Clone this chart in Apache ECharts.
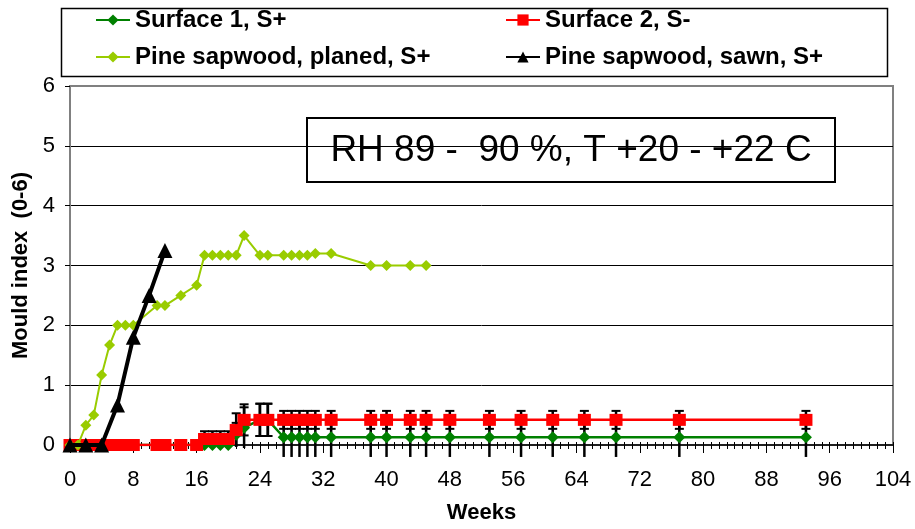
<!DOCTYPE html>
<html>
<head>
<meta charset="utf-8">
<script src="https://cdn.jsdelivr.net/npm/echarts@6/dist/echarts.min.js"></script>
<style>
html,body{margin:0;padding:0;background:#fff;}
#c{width:915px;height:529px;}
</style>
</head>
<body>
<div id="c"></div>
<script>
// ---- Data ----
const weeksSurf = [0,1,2,3,4,5,6,7,8,11,12,14,16,17,18,19,20,21,22,24,25,27,28,29,30,31,33,38,40,43,45,48,53,57,61,65,69,77,93];
const surface1 = [0,0,0,0,0,0,0,0,0,0,0,0,0,0,0,0,0,0.17,0.29,0.42,0.42,0.13,0.13,0.13,0.13,0.13,0.13,0.13,0.13,0.13,0.13,0.13,0.13,0.13,0.13,0.13,0.13,0.13,0.13];
const surface1Err = [0,0,0,0,0,0,0,0,0,0,0,0,0,0,0,0,0,0.2,0.34,0.27,0.27,0.33,0.33,0.33,0.33,0.33,0.33,0.33,0.33,0.33,0.33,0.33,0.33,0.33,0.33,0.33,0.33,0.33,0.33];
const surface2 = [0,0,0,0,0,0,0,0,0,0,0,0,0,0.1,0.1,0.1,0.1,0.25,0.42,0.42,0.42,0.42,0.42,0.42,0.42,0.42,0.42,0.42,0.42,0.42,0.42,0.42,0.42,0.42,0.42,0.42,0.42,0.42,0.42];
const surface2Err = [0,0,0,0,0,0,0,0,0,0,0,0,0,0.13,0.13,0.13,0.13,0.28,0.26,0.27,0.27,0.15,0.15,0.15,0.15,0.15,0.15,0.15,0.15,0.15,0.15,0.15,0.15,0.15,0.15,0.15,0.15,0.15,0.15];
const weeksPlaned = [0,1,2,3,4,5,6,7,8,11,12,14,16,17,18,19,20,21,22,24,25,27,28,29,30,31,33,38,40,43,45];
const pinePlaned = [0,0,0.33,0.5,1.17,1.67,2,2,2,2.33,2.33,2.5,2.67,3.17,3.17,3.17,3.17,3.17,3.5,3.17,3.17,3.17,3.17,3.17,3.17,3.2,3.2,3,3,3,3];
const weeksSawn = [0,2,4,6,8,10,12];
const pineSawn = [0,0,0,0.67,1.8,2.5,3.25];
const xTicks = {min:0, max:104, interval:8};
const yTicks = {min:0, max:6, interval:1};
const names = ['Surface 1, S+','Surface 2, S-','Pine sapwood, planed, S+','Pine sapwood, sawn, S+'];
const noteText = 'RH 89 -  90 %, T +20 - +22 C';

// ---- Build ----
const zip = (xs, ys) => xs.map((x,i)=>[x, ys[i]]);
const errData = (xs, ys, es) => xs.map((x,i)=>[x, ys[i]-es[i], ys[i]+es[i], es[i]]).filter(d=>d[3]>0);
const FONT = 'Liberation Sans, Arial, sans-serif';

function renderErr(params, api){
  const x = api.value(0), lo = api.value(1), hi = api.value(2);
  const pH = api.coord([x, hi]), pL = api.coord([x, lo]);
  const cw = 4.5;
  const st = {stroke:'#000', lineWidth:2.5};
  const ch = [
    {type:'line', shape:{x1:pH[0], y1:pH[1], x2:pL[0], y2:pL[1]}, style:st},
    {type:'line', shape:{x1:pH[0]-cw, y1:pH[1], x2:pH[0]+cw, y2:pH[1]}, style:{stroke:'#000', lineWidth:2}}
  ];
  if (lo >= 0) ch.push({type:'line', shape:{x1:pL[0]-cw, y1:pL[1], x2:pL[0]+cw, y2:pL[1]}, style:{stroke:'#000', lineWidth:2}});
  return {type:'group', children:ch};
}

const chart = echarts.init(document.getElementById('c'), null, {renderer:'canvas'});
chart.setOption({
  animation:false,
  backgroundColor:'#fff',
  textStyle:{fontFamily:FONT},
  grid:{left:70, right:22, top:86, bottom:73, show:true, borderColor:'#808080', borderWidth:2, backgroundColor:'#fff'},
  legend:[
    {data:[names[0], names[2]], orient:'vertical', left:95, top:8, padding:0, itemGap:13, itemWidth:34, itemHeight:14,
     textStyle:{fontSize:24, fontWeight:'bold', color:'#000', lineHeight:24, fontFamily:FONT}},
    {data:[names[1], names[3]], orient:'vertical', left:505, top:8, padding:0, itemGap:13, itemWidth:34, itemHeight:14,
     textStyle:{fontSize:24, fontWeight:'bold', color:'#000', lineHeight:24, fontFamily:FONT}}
  ],
  graphic:[
    {type:'rect', left:59, top:6, shape:{width:826, height:68}, style:{fill:'none', stroke:'#000', lineWidth:1.5}, z:-1},
    {type:'group', left:306, top:117, z:50, children:[
      {type:'rect', shape:{x:0, y:0, width:528, height:64}, style:{fill:'#fff', stroke:'#000', lineWidth:2}},
      {type:'text', x:264, y:33, style:{text:noteText, fontSize:37, fontFamily:FONT, fill:'#000', align:'center', verticalAlign:'middle'}}
    ]}
  ],
  xAxis:[
    {type:'value', min:xTicks.min, max:xTicks.max, interval:xTicks.interval,
     axisLine:{lineStyle:{color:'#000', width:1.5}},
     axisTick:{show:true, length:8, lineStyle:{color:'#000', width:1}},
     minorTick:{show:true, splitNumber:8, length:4, lineStyle:{color:'#000', width:1}},
     axisLabel:{fontSize:22, color:'#000', margin:24, fontFamily:FONT},
     splitLine:{show:false},
     name:'Weeks', nameLocation:'middle', nameGap:57,
     nameTextStyle:{fontSize:22, fontWeight:'bold', color:'#000', fontFamily:FONT}},
    {type:'value', min:xTicks.min, max:xTicks.max, interval:xTicks.interval, position:'bottom',
     axisLine:{show:false}, axisLabel:{show:false}, splitLine:{show:false},
     axisTick:{show:true, inside:true, length:3, lineStyle:{color:'#000', width:1}},
     minorTick:{show:true, splitNumber:8, length:3, lineStyle:{color:'#000', width:1}}}
  ],
  yAxis:{type:'value', min:yTicks.min, max:yTicks.max, interval:yTicks.interval,
     axisLine:{show:true, lineStyle:{color:'#808080', width:2}},
     axisTick:{show:true, length:5, lineStyle:{color:'#000', width:1}},
     axisLabel:{fontSize:22, color:'#000', margin:15, fontFamily:FONT},
     splitLine:{show:true, showMinLine:false, showMaxLine:false, lineStyle:{color:'#000', width:1}},
     name:'Mould index  (0-6)', nameLocation:'middle', nameGap:37, nameRotate:90,
     nameTextStyle:{fontSize:22, fontWeight:'bold', color:'#000', fontFamily:FONT}},
  series:[
    {type:'custom', name:'err1', renderItem:renderErr, data:errData(weeksSurf, surface1, surface1Err), z:1, silent:true},
    {type:'custom', name:'err2', renderItem:renderErr, data:errData(weeksSurf, surface2, surface2Err), z:1, silent:true},
    {type:'line', name:names[0], data:zip(weeksSurf, surface1), z:2,
     symbol:'diamond', symbolSize:[12,12], lineStyle:{color:'#008000', width:2.5}, itemStyle:{color:'#008000'}},
    {type:'line', name:names[1], data:zip(weeksSurf, surface2), z:3,
     symbol:'rect', symbolSize:[13,12], lineStyle:{color:'#FF0000', width:2.5}, itemStyle:{color:'#FF0000'}},
    {type:'line', name:names[2], data:zip(weeksPlaned, pinePlaned), z:4,
     symbol:'diamond', symbolSize:[11,11], lineStyle:{color:'#99CC00', width:2}, itemStyle:{color:'#99CC00'}},
    {type:'line', name:names[3], data:zip(weeksSawn, pineSawn), z:5,
     symbol:'triangle', symbolSize:[15,15], lineStyle:{color:'#000', width:4}, itemStyle:{color:'#000'}}
  ]
});
</script>
</body>
</html>
